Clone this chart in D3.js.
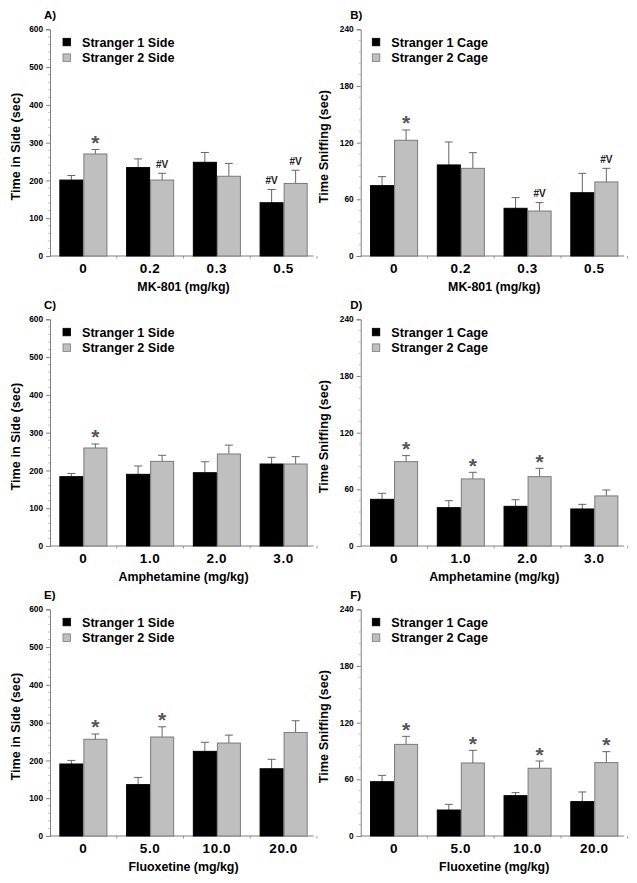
<!DOCTYPE html>
<html><head><meta charset="utf-8">
<script src="https://cdn.jsdelivr.net/npm/d3@7"></script>
<style>body{margin:0;background:#fff}svg{display:block}text{font-family:"Liberation Sans",Arial,sans-serif;font-weight:bold}</style>
</head><body>
<script>
// ---- data ----
const dosesMK = ["0", "0.2", "0.3", "0.5"];
const dosesAmph = ["0", "1.0", "2.0", "3.0"];
const dosesFlx = ["0", "5.0", "10.0", "20.0"];
const sideTicks = [0, 100, 200, 300, 400, 500, 600];
const sniffTicks = [0, 60, 120, 180, 240];

const aS1 = [201, 234, 248, 141], aS1Err = [12, 23, 26, 35];
const aS2 = [270, 201, 211, 192], aS2Err = [12, 18, 34, 35];
const aS1Mark = ["", "", "", "#V"], aS2Mark = ["*", "#V", "", "#V"];

const bS1 = [74.5, 96.4, 50.5, 67], bS1Err = [9.5, 24.3, 11.3, 20.5];
const bS2 = [122.5, 92.8, 47.6, 78.4], bS2Err = [10.9, 16.6, 8.9, 14.4];
const bS1Mark = ["", "", "", ""], bS2Mark = ["*", "", "#V", "#V"];

const cS1 = [183.5, 189.7, 194, 217], cS1Err = [8.5, 22.1, 29, 17.7];
const cS2 = [259.4, 224, 243.5, 217], cS2Err = [10.6, 16, 23.5, 19.5];
const cS1Mark = ["", "", "", ""], cS2Mark = ["*", "", "", ""];

const dS1 = [49.4, 40.6, 42, 39.2], dS1Err = [6.4, 7.4, 7, 4.9];
const dS2 = [89.3, 71, 73.4, 53], dS2Err = [6.4, 7, 8.8, 6.3];
const dS1Mark = ["", "", "", ""], dS2Mark = ["*", "*", "*", ""];

const eS1 = [190.6, 136, 224, 178], eS1Err = [9.4, 19, 24, 25];
const eS2 = [256, 262, 246, 274], eS2Err = [14, 27, 21, 31];
const eS1Mark = ["", "", "", ""], eS2Mark = ["*", "*", "", ""];

const fS1 = [57.5, 27.5, 42.7, 36.4], fS1Err = [6.7, 6, 3.2, 10.2];
const fS2 = [97, 77.3, 71.7, 77.7], fS2Err = [8.5, 13.4, 7.7, 11.6];
const fS1Mark = ["", "", "", ""], fS2Mark = ["*", "*", "*", "*"];

const sideLegend = ["Stranger 1 Side", "Stranger 2 Side"];
const cageLegend = ["Stranger 1 Cage", "Stranger 2 Cage"];
const sideTitle = "Time in Side (sec)", sniffTitle = "Time Sniffing (sec)";

const panels = [
  {label:"A)", col:0, row:0, cats:dosesMK, xTitle:"MK-801 (mg/kg)", yTitle:sideTitle, ticks:sideTicks, max:600, legend:sideLegend, s1:aS1, e1:aS1Err, s2:aS2, e2:aS2Err, m1:aS1Mark, m2:aS2Mark},
  {label:"B)", col:1, row:0, cats:dosesMK, xTitle:"MK-801 (mg/kg)", yTitle:sniffTitle, ticks:sniffTicks, max:240, legend:cageLegend, s1:bS1, e1:bS1Err, s2:bS2, e2:bS2Err, m1:bS1Mark, m2:bS2Mark},
  {label:"C)", col:0, row:1, cats:dosesAmph, xTitle:"Amphetamine (mg/kg)", yTitle:sideTitle, ticks:sideTicks, max:600, legend:sideLegend, s1:cS1, e1:cS1Err, s2:cS2, e2:cS2Err, m1:cS1Mark, m2:cS2Mark},
  {label:"D)", col:1, row:1, cats:dosesAmph, xTitle:"Amphetamine (mg/kg)", yTitle:sniffTitle, ticks:sniffTicks, max:240, legend:cageLegend, s1:dS1, e1:dS1Err, s2:dS2, e2:dS2Err, m1:dS1Mark, m2:dS2Mark},
  {label:"E)", col:0, row:2, cats:dosesFlx, xTitle:"Fluoxetine (mg/kg)", yTitle:sideTitle, ticks:sideTicks, max:600, legend:sideLegend, s1:eS1, e1:eS1Err, s2:eS2, e2:eS2Err, m1:eS1Mark, m2:eS2Mark},
  {label:"F)", col:1, row:2, cats:dosesFlx, xTitle:"Fluoxetine (mg/kg)", yTitle:sniffTitle, ticks:sniffTicks, max:240, legend:cageLegend, s1:fS1, e1:fS1Err, s2:fS2, e2:fS2Err, m1:fS1Mark, m2:fS2Mark}
];

// ---- drawing ----
const W = 637, H = 883;
const svg = d3.select("body").append("svg").attr("width", W).attr("height", H);
const colX = [0, 310.7], rowY = [0, 290, 580];
const axisCol = "#808080", grayFill = "#bfbfbf", grayStroke = "#7a7a7a", errCol = "#666";

panels.forEach(p => {
  const g = svg.append("g").attr("transform", `translate(${colX[p.col]},${rowY[p.row]})`);
  const x0 = 50, x1 = 317, yTop = 29.3, yBot = 256;
  const x = d3.scaleBand().domain(p.cats).range([x0, x1]).paddingInner(0.28).paddingOuter(0.14);
  const xs = d3.scaleBand().domain([0, 1]).range([0, x.bandwidth()]);
  const y = d3.scaleLinear().domain([0, p.max]).range([yBot, yTop]);

  // minor y ticks
  const minorStep = p.ticks[1] / 5;
  const minors = d3.range(0, p.max + 0.001, minorStep).filter(v => !p.ticks.includes(v));
  g.selectAll(".minor").data(minors).join("line")
    .attr("x1", x0 - 2).attr("x2", x0).attr("y1", d => y(d)).attr("y2", d => y(d))
    .attr("stroke", "#aaa").attr("stroke-width", 0.7);

  // y axis
  const yAxis = d3.axisLeft(y).tickValues(p.ticks).tickSize(4).tickPadding(3).tickFormat(d3.format("d"));
  const ya = g.append("g").attr("transform", `translate(${x0},0)`).call(yAxis);
  ya.select(".domain").attr("stroke", axisCol);
  ya.selectAll(".tick line").attr("stroke", axisCol);
  ya.selectAll(".tick text").attr("font-size", 8.3).attr("fill", "#000").style("font-family", "Liberation Sans, Arial").style("font-weight", "bold");

  // x axis line and boundary ticks
  g.append("line").attr("x1", x0).attr("x2", 313.5).attr("y1", yBot).attr("y2", yBot).attr("stroke", axisCol).attr("stroke-width", 1);
  const bounds = p.cats.slice(1).map(c => x(c) - x.step() * x.paddingInner() / 2);
  bounds.push(x(p.cats[p.cats.length - 1]) + x.bandwidth() + x.step() * x.paddingInner() / 2);
  g.selectAll(".xb").data(bounds).join("line")
    .attr("x1", d => d).attr("x2", d => d).attr("y1", yBot).attr("y2", yBot + 2.5)
    .attr("stroke", axisCol).attr("stroke-width", 0.8);
  g.selectAll(".xl").data(p.cats).join("text")
    .attr("x", d => x(d) + x.bandwidth() / 2).attr("y", yBot + 16.5)
    .attr("text-anchor", "middle").attr("font-size", 13.5).attr("letter-spacing", 0.6).attr("fill", "#000")
    .text(d => d);

  // bars
  const series = [
    {vals: p.s1, errs: p.e1, marks: p.m1, fill: "#000", stroke: "#000", k: 0},
    {vals: p.s2, errs: p.e2, marks: p.m2, fill: grayFill, stroke: grayStroke, k: 1}
  ];
  series.forEach(s => {
    const bx = (i) => x(p.cats[i]) + xs(s.k);
    const bw = xs.bandwidth();
    s.vals.forEach((v, i) => {
      const cx = bx(i) + bw / 2, top = y(v + s.errs[i]);
      g.append("line").attr("x1", cx).attr("x2", cx).attr("y1", y(v)).attr("y2", top).attr("stroke", errCol).attr("stroke-width", 1);
      g.append("line").attr("x1", cx - 4).attr("x2", cx + 4).attr("y1", top).attr("y2", top).attr("stroke", errCol).attr("stroke-width", 1);
    });
    g.selectAll(null).data(s.vals).join("rect")
      .attr("x", (d, i) => bx(i) + 0.5).attr("width", bw - 1)
      .attr("y", d => y(d)).attr("height", d => yBot - y(d))
      .attr("fill", s.fill).attr("stroke", s.stroke).attr("stroke-width", 1);
    s.vals.forEach((v, i) => {
      const m = s.marks[i];
      if (!m) return;
      const cx = bx(i) + bw / 2, top = y(v + s.errs[i]);
      if (m === "*") {
        g.append("text").attr("x", cx).attr("y", top + 0.5).attr("text-anchor", "middle")
          .attr("font-size", 21).attr("fill", "#555").text("*");
      } else {
        g.append("text").attr("x", cx).attr("y", top - 5.5).attr("text-anchor", "middle")
          .attr("font-size", 10).attr("fill", "#222").text(m);
      }
    });
  });

  // legend
  const lx = p.col === 0 ? 63 : 61.6;
  p.legend.forEach((t, i) => {
    const ly = 38.3 + i * 15.6;
    g.append("rect").attr("x", lx).attr("y", ly).attr("width", 7.5).attr("height", 7.5)
      .attr("fill", i === 0 ? "#000" : grayFill).attr("stroke", i === 0 ? "#000" : grayStroke).attr("stroke-width", 0.8);
    g.append("text").attr("x", lx + 19).attr("y", ly + 8.3).attr("font-size", 12.6).attr("fill", "#000").text(t);
  });

  // panel label
  g.append("text").attr("x", p.col === 0 ? 44 : 39.5).attr("y", 19).attr("font-size", 11.5).attr("fill", "#000").text(p.label);

  // axis titles
  g.append("text").attr("x", (x0 + 317) / 2).attr("y", yBot + 35).attr("text-anchor", "middle")
    .attr("font-size", 12.4).attr("fill", "#000").text(p.xTitle);
  g.append("text").attr("transform", `translate(${p.col === 0 ? 19.5 : 17.5},${(yTop + yBot) / 2 + 4}) rotate(-90)`)
    .attr("text-anchor", "middle").attr("font-size", 12.7).attr("fill", "#000").text(p.yTitle);
});
</script>
</body></html>
